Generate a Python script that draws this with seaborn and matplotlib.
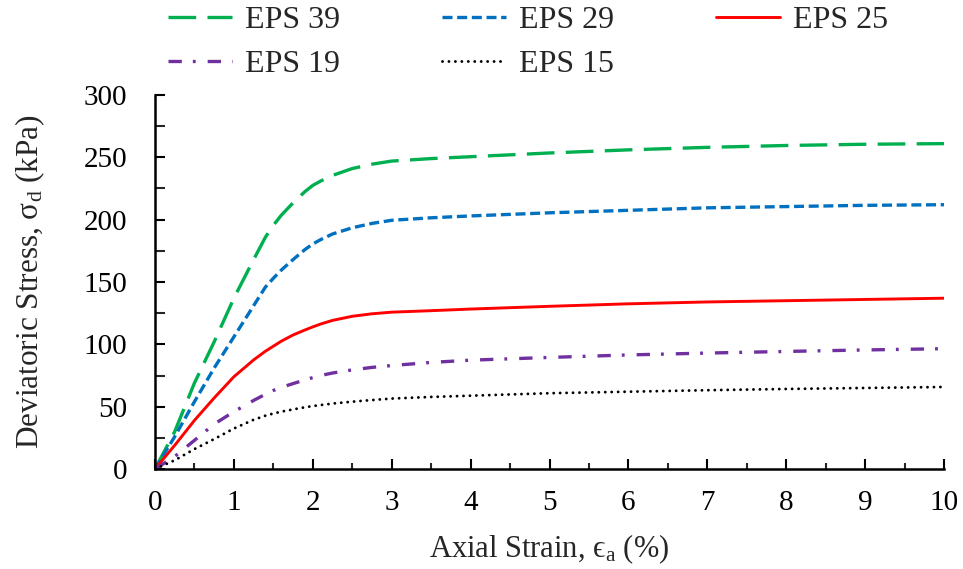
import numpy as np
import pandas as pd
import matplotlib
matplotlib.use("Agg")
import matplotlib.pyplot as plt
import seaborn as sns
from matplotlib.ticker import MultipleLocator

# ---- data ----
strain = [0, 0.25, 0.5, 0.75, 1.0, 1.25, 1.4, 1.5, 1.6, 1.75, 1.9, 2.0, 2.1, 2.25, 2.5, 2.75,
          3.0, 3.5, 4.0, 5.0, 6.0, 7.0, 8.0, 9.0, 10.0]
eps39 = [0, 30, 69, 102, 137, 168, 186, 195.5, 203.5, 213.5, 222.5, 227.5, 231, 235.5, 241, 244.5,
         247, 249, 250.5, 253.5, 256, 258, 259.5, 260.5, 261]
eps29 = [0, 26, 54, 81, 106, 131, 146, 153, 159.5, 168, 176, 180.5, 184, 188.5, 193.5, 197,
         199.5, 201.5, 203, 205.5, 207.5, 209.5, 210.5, 211.5, 212]
eps25 = [0, 19, 39, 57, 74, 87.5, 94.5, 98.5, 102.5, 107.5, 111.5, 114, 116.3, 119.2, 122.5, 124.5,
         125.8, 127, 128.3, 130.5, 132.5, 134, 135, 136, 137]
eps19 = [0, 10, 23, 36, 46, 55, 60, 63, 65.5, 68.5, 71.5, 73.3, 75, 77, 79.5, 81.5,
         83, 85.5, 87.3, 89.5, 91.5, 93, 94.3, 95.5, 96.5]
eps15 = [0, 7, 16, 24, 32.5, 39.5, 42.8, 44.5, 46, 47.8, 49.5, 50.5, 51.3, 52.5, 54, 55.3,
         56.5, 57.8, 58.8, 60.8, 62, 63.2, 64.2, 65, 65.8]

series_names = ["EPS 39", "EPS 29", "EPS 25", "EPS 19", "EPS 15"]
series_values = [eps39, eps29, eps25, eps19, eps15]

x_ticks = [0, 1, 2, 3, 4, 5, 6, 7, 8, 9, 10]
y_ticks = [0, 50, 100, 150, 200, 250, 300]

# ---- styles ----
colors = ["#00B050", "#0070C0", "#FF0000", "#7030A0", "#000000"]
styles = [(0, (8.3, 3.4)), (0, (3.0, 1.4)), "-", (0, (4.0, 3.3, 0.85, 3.6)),
          (0, (0.01, 2.2))]
widths = [2.4, 2.4, 2.1, 2.4, 2.1]
caps = ["butt", "butt", "butt", "butt", "round"]

sns.set_style("ticks")
plt.rcParams["font.family"] = ["Liberation Serif", "DejaVu Serif"]
plt.rcParams["mathtext.fontset"] = "custom"
plt.rcParams["mathtext.rm"] = "Liberation Serif"
plt.rcParams["mathtext.it"] = "Liberation Serif:italic"
plt.rcParams["xtick.direction"] = "in"
plt.rcParams["ytick.direction"] = "in"

fig = plt.figure(figsize=(9.63, 5.69), dpi=100)
ax = fig.add_axes([155 / 963, 1 - 469 / 569, (944 - 155) / 963, (469 - 95) / 569])

for name, vals, c, ls, lw, cap in zip(series_names, series_values, colors,
                                       styles, widths, caps):
    df = pd.DataFrame({"strain": strain, "stress": vals})
    sns.lineplot(data=df, x="strain", y="stress", ax=ax, color=c,
                 linestyle=ls, linewidth=lw, label=name, sort=False,
                 dash_capstyle=cap)

ax.set_xlim(0, 10)
ax.set_ylim(0, 300)
ax.set_xticks(x_ticks)
ax.set_yticks(y_ticks)
ax.xaxis.set_minor_locator(MultipleLocator(0.5))
ax.yaxis.set_minor_locator(MultipleLocator(25))

for s in ["top", "right"]:
    ax.spines[s].set_visible(False)
for s in ["left", "bottom"]:
    ax.spines[s].set_linewidth(1.8)
    ax.spines[s].set_color("black")

ax.tick_params(axis="x", which="major", direction="in", length=7, width=1.5,
               pad=15, labelsize=21, colors="black")
ax.tick_params(axis="x", which="minor", direction="in", length=4, width=1.5)
ax.tick_params(axis="y", which="major", direction="in", length=7, width=1.5,
               pad=20, labelsize=21, colors="black")
ax.tick_params(axis="y", which="minor", direction="in", length=7, width=1.5)

ax.set_xlabel("Axial Strain, \u03f5$_\\mathrm{a}$ (%)", fontsize=22, labelpad=12)
ax.set_ylabel("Deviatoric Stress, \u03c3$_\\mathrm{d}$ (kPa)", fontsize=22.5,
              labelpad=26)

handles, labels = ax.get_legend_handles_labels()
ax.get_legend().remove()
order = [0, 3, 1, 4, 2]  # row-wise reading order for a 3-column legend
fig.legend([handles[i] for i in order], [labels[i] for i in order], ncol=3,
           loc="upper left", bbox_to_anchor=(168 / 963, 1 - 6 / 569),
           frameon=False, fontsize=23,
           handlelength=2.0, handletextpad=0.4, columnspacing=3.2,
           labelspacing=0.45, borderpad=0.0, borderaxespad=0.0)

fig.savefig("out.png", dpi=100)
